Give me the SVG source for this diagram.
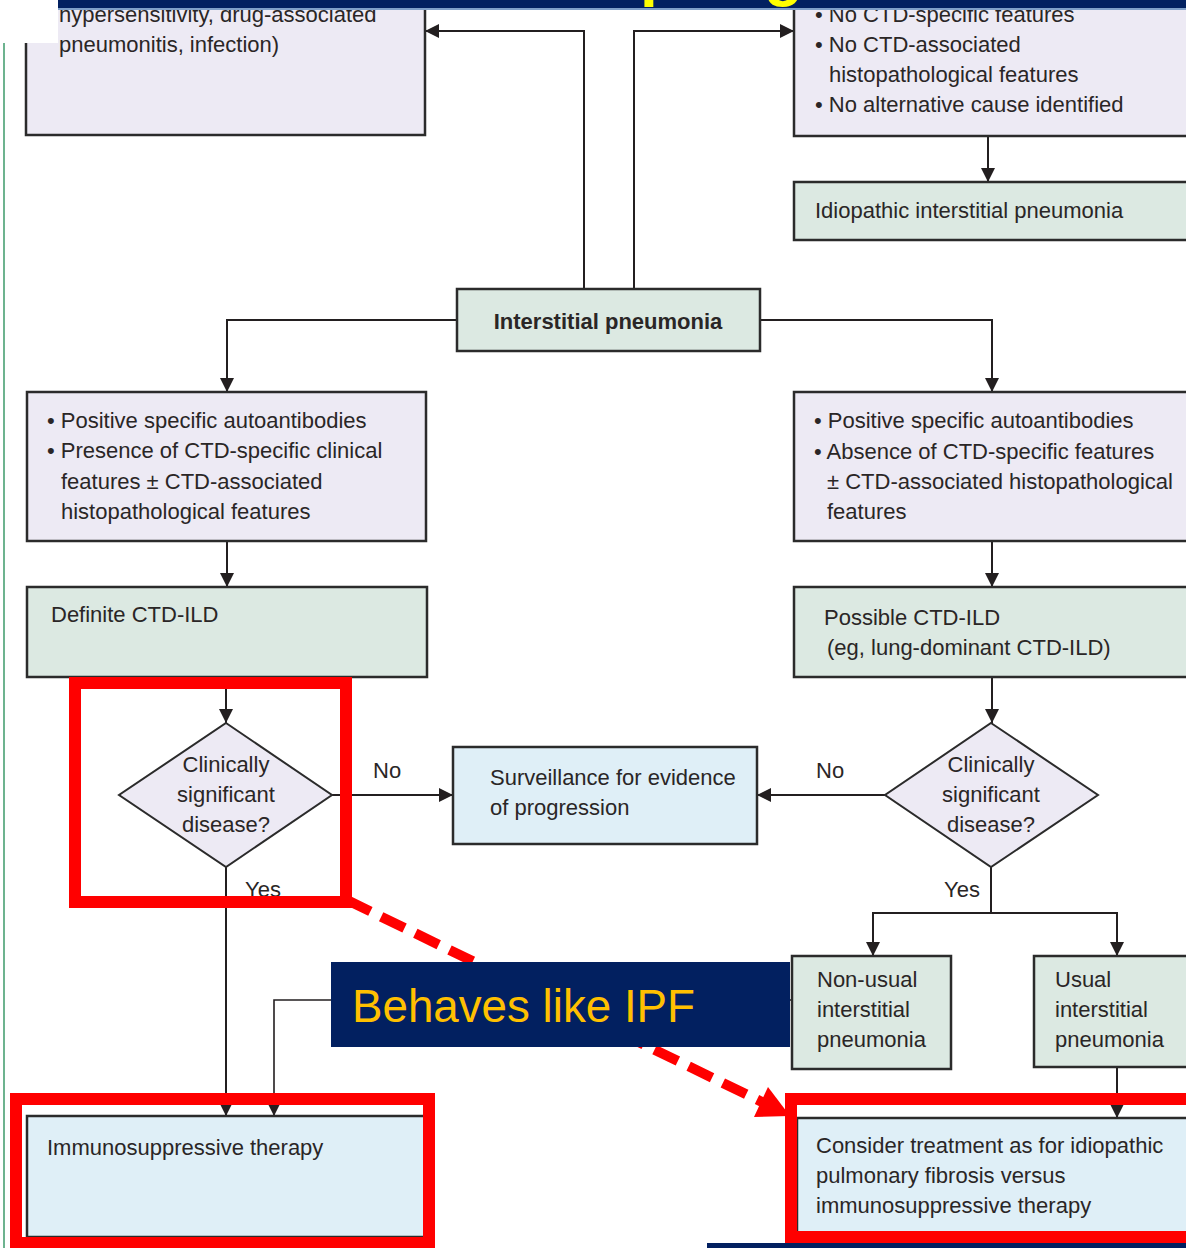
<svg xmlns="http://www.w3.org/2000/svg" width="1186" height="1248" viewBox="0 0 1186 1248">
<style>
.t{font-family:"Liberation Sans",Arial,sans-serif;font-size:22px;fill:#2a2626}
.b{font-weight:bold}
.c{text-anchor:middle}
.lav{fill:#EDEAF4;stroke:#2b2b2b;stroke-width:2.5}
.mint{fill:#DCE9E2;stroke:#2b2b2b;stroke-width:2.5}
.blue{fill:#DFEFF7;stroke:#2b2b2b;stroke-width:2.5}
.con{fill:none;stroke:#231f20;stroke-width:2}
.hl{fill:none;stroke:#FF0000;stroke-width:12}
</style>
<defs>
<marker id="ah" markerUnits="userSpaceOnUse" markerWidth="16" markerHeight="14" refX="14" refY="7" orient="auto">
<path d="M0,0 L14,7 L0,14 Z" fill="#231f20"/>
</marker>
<clipPath id="bannerClip"><rect x="58" y="0" width="1128" height="8"/></clipPath>
</defs>
<rect width="1186" height="1248" fill="#ffffff"/>

<g id="connectors">
<path class="con" d="M584,289 V31 H425" marker-end="url(#ah)"/>
<path class="con" d="M634,289 V31 H794" marker-end="url(#ah)"/>
<path class="con" d="M988,136 V182" marker-end="url(#ah)"/>
<path class="con" d="M457,320 H227 V392" marker-end="url(#ah)"/>
<path class="con" d="M760,320 H992 V392" marker-end="url(#ah)"/>
<path class="con" d="M227,541 V587" marker-end="url(#ah)"/>
<path class="con" d="M992,541 V587" marker-end="url(#ah)"/>
<path class="con" d="M226,677 V723" marker-end="url(#ah)"/>
<path class="con" d="M992,677 V723" marker-end="url(#ah)"/>
<path class="con" d="M332,795 H453" marker-end="url(#ah)"/>
<path class="con" d="M885,795 H757" marker-end="url(#ah)"/>
<path class="con" d="M226,867 V1116" marker-end="url(#ah)"/>
<path class="con" d="M991,867 V913"/>
<path class="con" d="M991,913 H873 V956" marker-end="url(#ah)"/>
<path class="con" d="M991,913 H1117 V956" marker-end="url(#ah)"/>
<path class="con" d="M1117,1067 V1118" marker-end="url(#ah)"/>
<path class="con" d="M792,1000 H274 V1116" marker-end="url(#ah)" style="stroke-width:1.6"/>
</g>

<g id="node-alt-cause">
<rect class="lav" x="26" y="-20" width="399" height="155"/>
<text class="t" x="59" y="22">hypersensitivity, drug-associated</text>
<text class="t" x="59" y="52">pneumonitis, infection)</text>
</g>

<g id="node-no-ctd">
<rect class="lav" x="794" y="-20" width="410" height="156"/>
<text class="t" x="815" y="22">• No CTD-specific features</text>
<text class="t" x="815" y="52">• No CTD-associated</text>
<text class="t" x="829" y="82">histopathological features</text>
<text class="t" x="815" y="112">• No alternative cause identified</text>
</g>

<g id="node-iip">
<rect class="mint" x="794" y="182" width="410" height="58"/>
<text class="t" x="815" y="218">Idiopathic interstitial pneumonia</text>
</g>

<g id="node-ip">
<rect class="mint" x="457" y="289" width="303" height="62"/>
<text class="t b c" x="608" y="329">Interstitial pneumonia</text>
</g>

<g id="node-left-criteria">
<rect class="lav" x="27" y="392" width="399" height="149"/>
<text class="t" x="47" y="428">• Positive specific autoantibodies</text>
<text class="t" x="47" y="458">• Presence of CTD-specific clinical</text>
<text class="t" x="61" y="489">features ± CTD-associated</text>
<text class="t" x="61" y="519">histopathological features</text>
</g>

<g id="node-right-criteria">
<rect class="lav" x="794" y="392" width="410" height="149"/>
<text class="t" x="814" y="428">• Positive specific autoantibodies</text>
<text class="t" x="814" y="459">• Absence of CTD-specific features</text>
<text class="t" x="827" y="489">± CTD-associated histopathological</text>
<text class="t" x="827" y="519">features</text>
</g>

<g id="node-definite">
<rect class="mint" x="27" y="587" width="400" height="90"/>
<text class="t" x="51" y="622">Definite CTD-ILD</text>
</g>

<g id="node-possible">
<rect class="mint" x="794" y="587" width="410" height="90"/>
<text class="t" x="824" y="625">Possible CTD-ILD</text>
<text class="t" x="827" y="655">(eg, lung-dominant CTD-ILD)</text>
</g>

<g id="node-diamond-left">
<polygon class="lav" points="226,723 332,795 226,867 119,795" style="stroke-width:2"/>
<text class="t c" x="226" y="772">Clinically</text>
<text class="t c" x="226" y="802">significant</text>
<text class="t c" x="226" y="832">disease?</text>
</g>

<g id="node-diamond-right">
<polygon class="lav" points="991,723 1098,795 991,867 885,795" style="stroke-width:2"/>
<text class="t c" x="991" y="772">Clinically</text>
<text class="t c" x="991" y="802">significant</text>
<text class="t c" x="991" y="832">disease?</text>
</g>

<g id="node-surveillance">
<rect class="blue" x="453" y="747" width="304" height="97"/>
<text class="t" x="490" y="785">Surveillance for evidence</text>
<text class="t" x="490" y="815">of progression</text>
</g>

<g id="labels">
<text class="t" x="373" y="778">No</text>
<text class="t" x="816" y="778">No</text>
<text class="t" x="245" y="897">Yes</text>
<text class="t" x="944" y="897">Yes</text>
</g>

<g id="node-nonusual">
<rect class="mint" x="792" y="956" width="159" height="113"/>
<text class="t" x="817" y="987">Non-usual</text>
<text class="t" x="817" y="1017">interstitial</text>
<text class="t" x="817" y="1047">pneumonia</text>
</g>

<g id="node-usual">
<rect class="mint" x="1034" y="956" width="170" height="111"/>
<text class="t" x="1055" y="987">Usual</text>
<text class="t" x="1055" y="1017">interstitial</text>
<text class="t" x="1055" y="1047">pneumonia</text>
</g>

<g id="node-immuno">
<rect class="blue" x="27" y="1116" width="399" height="121"/>
<text class="t" x="47" y="1155">Immunosuppressive therapy</text>
</g>

<g id="node-consider">
<rect class="blue" x="797" y="1118" width="407" height="120"/>
<text class="t" x="816" y="1153">Consider treatment as for idiopathic</text>
<text class="t" x="816" y="1183">pulmonary fibrosis versus</text>
<text class="t" x="816" y="1213">immunosuppressive therapy</text>
</g>

<g id="annotations">
<line x1="347" y1="900" x2="762" y2="1102" stroke="#FF0000" stroke-width="10" stroke-dasharray="26 12"/>
<polygon points="790,1116 754,1117 768,1087" fill="#FF0000"/>
<rect class="hl" x="75" y="683" width="271" height="219"/>
<rect class="hl" x="16" y="1099" width="413" height="144"/>
<rect class="hl" x="791" y="1099" width="420" height="138"/>
</g>

<g id="node-behaves">
<rect x="331" y="962" width="459" height="85" fill="#022060"/>
<text x="352" y="1022" font-family="'Liberation Sans',Arial,sans-serif" font-size="46" fill="#FFC000" textLength="343" lengthAdjust="spacingAndGlyphs">Behaves like IPF</text>
</g>

<g id="frame">
<rect x="0" y="0" width="58" height="43" fill="#ffffff"/>
<line x1="4" y1="43" x2="4" y2="1248" stroke="#6DB38F" stroke-width="2"/>
<rect x="58" y="0" width="1128" height="8" fill="#022060"/>
<rect x="58" y="8" width="1128" height="2" fill="#7F9FC8"/>
<g clip-path="url(#bannerClip)">
<text x="640" y="-6" font-family="'Liberation Sans',Arial,sans-serif" font-size="64" font-weight="bold" fill="#FFFF00">p</text>
<text x="764" y="-6" font-family="'Liberation Sans',Arial,sans-serif" font-size="64" font-weight="bold" fill="#FFFF00">g</text>
</g>
<rect x="707" y="1243" width="479" height="5" fill="#022060"/>
</g>
</svg>
